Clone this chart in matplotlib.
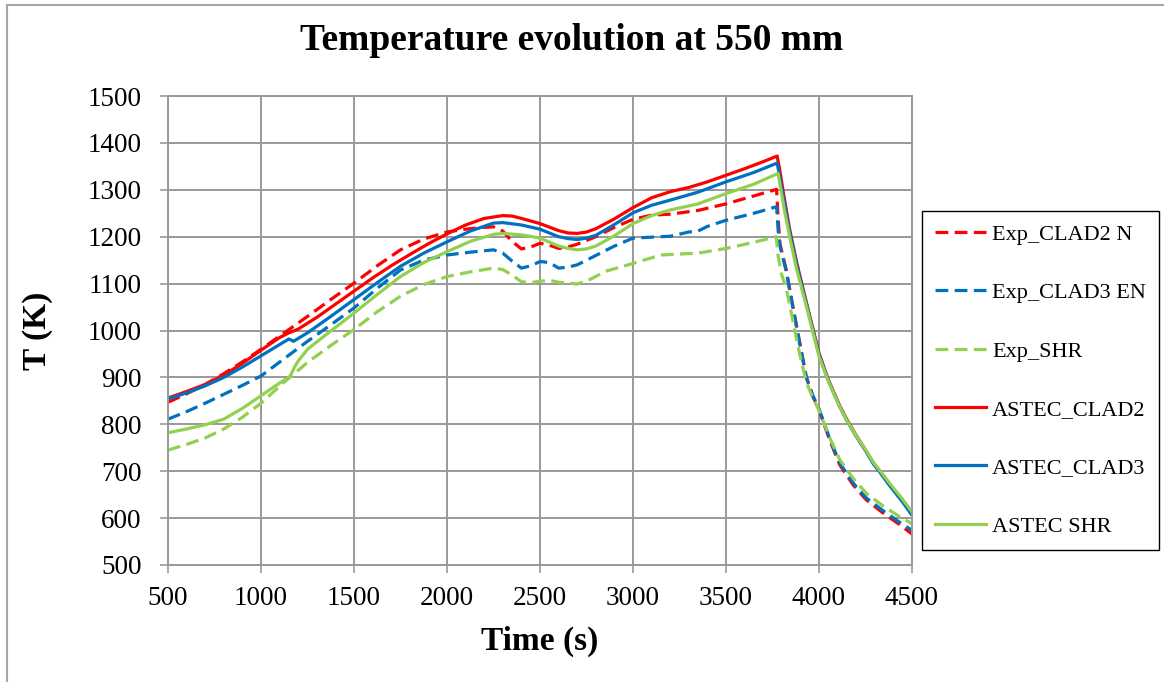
import matplotlib
matplotlib.use("Agg")
import matplotlib.pyplot as plt
from matplotlib.lines import Line2D

plt.rcParams['font.family'] = ['Liberation Serif', 'DejaVu Serif']

# Experimental data (time in s, temperature in K)
t_exp_clad2 = [500, 600, 700, 800, 900, 1000, 1125, 1250, 1375, 1500, 1625, 1750, 1875, 2000,
               2100, 2200, 2250, 2300, 2350, 2400, 2450, 2500, 2550, 2600, 2650, 2700, 2800,
               2900, 3000, 3100, 3200, 3350, 3500, 3650, 3772,
               3780, 3790, 3824, 3860, 3896, 3932, 3968, 4000, 4057, 4111, 4183, 4254, 4344,
               4434, 4500]
T_exp_clad2 = [847, 865, 885, 908, 933, 960, 995, 1030, 1066, 1101, 1138, 1172, 1195, 1210,
               1216, 1220, 1221, 1212, 1190, 1174, 1178, 1186, 1182, 1175, 1178, 1184, 1200,
               1220, 1237, 1246, 1248, 1256, 1270, 1287, 1301,
               1240, 1185, 1129, 1050, 975, 900, 859, 831, 767, 714, 671, 639, 611,
               586, 566]

t_exp_clad3 = [500, 600, 700, 800, 900, 1000, 1125, 1250, 1375, 1500, 1625, 1750, 1875, 2000,
               2125, 2250, 2300, 2350, 2400, 2450, 2500, 2550, 2600, 2650, 2700, 2800, 2900,
               3000, 3100, 3200, 3300, 3350, 3400, 3500, 3650, 3772,
               3780, 3790, 3824, 3860, 3896, 3932, 3968, 4000, 4057, 4111, 4183, 4254, 4344,
               4434, 4500]
T_exp_clad3 = [811, 827, 845, 864, 883, 903, 940, 977, 1012, 1048, 1090, 1129, 1150, 1161,
               1167, 1172, 1165, 1148, 1133, 1138, 1147, 1145, 1133, 1135, 1140, 1160, 1180,
               1197, 1199, 1201, 1210, 1212, 1222, 1235, 1250, 1264,
               1215, 1180, 1126, 1048, 973, 900, 860, 833, 770, 718, 675, 643, 616,
               591, 574]

t_exp_shr = [500, 600, 700, 800, 900, 1000, 1125, 1250, 1375, 1500, 1625, 1750, 1875, 2000,
             2125, 2250, 2300, 2350, 2400, 2450, 2500, 2550, 2600, 2700, 2775, 2850, 3000,
             3150, 3350, 3500, 3650, 3770,
             3780, 3797, 3824, 3860, 3896, 3932, 3968, 4000, 4057, 4111, 4183, 4254, 4344,
             4434, 4500]
T_exp_shr = [745, 757, 771, 790, 815, 845, 890, 932, 968, 1002, 1040, 1073, 1098, 1115,
             1125, 1133, 1130, 1118, 1104, 1102, 1105, 1107, 1103, 1099, 1110, 1126, 1143,
             1161, 1165, 1175, 1188, 1200,
             1160, 1122, 1090, 1020, 950, 890, 855, 830, 772, 725, 685, 653, 626,
             603, 588]

# ASTEC simulation results
t_astec_clad2 = [500, 600, 700, 800, 900, 1000, 1100, 1150, 1200, 1300, 1400, 1500, 1600, 1700,
                 1800, 1900, 2000, 2100, 2200, 2300, 2350, 2400, 2500, 2600, 2650, 2700, 2750,
                 2800, 2900, 3000, 3100, 3200, 3300, 3400, 3500, 3600, 3700, 3775,
                 3790, 3810, 3842, 3880, 3932, 4000, 4050, 4111, 4150, 4200, 4250, 4290, 4340,
                 4380, 4450, 4500]
T_astec_clad2 = [856, 870, 885, 905, 930, 958, 985, 995, 1003, 1028, 1056, 1084, 1112, 1138,
                 1162, 1185, 1206, 1225, 1239, 1245, 1244, 1239, 1228, 1213, 1208, 1207, 1210,
                 1217, 1238, 1262, 1283, 1296, 1305, 1317, 1331, 1345, 1360, 1372,
                 1340, 1290, 1216, 1145, 1060, 952, 895, 840, 810, 776, 745, 719, 693,
                 672, 636, 608]

t_astec_clad3 = [500, 600, 700, 800, 900, 1000, 1100, 1150, 1175, 1250, 1375, 1500, 1625, 1750,
                 1875, 2000, 2125, 2250, 2300, 2400, 2500, 2600, 2650, 2700, 2750, 2800, 2900,
                 3000, 3100, 3200, 3350, 3500, 3650, 3775,
                 3790, 3810, 3842, 3880, 3932, 4000, 4050, 4111, 4150, 4200, 4250, 4290, 4340,
                 4380, 4450, 4500]
T_astec_clad3 = [854, 867, 882, 900, 922, 946, 970, 982, 977, 995, 1030, 1066, 1102, 1137,
                 1165, 1189, 1212, 1229, 1230, 1225, 1216, 1200, 1196, 1194, 1197, 1203, 1226,
                 1251, 1267, 1278, 1295, 1317, 1337, 1357,
                 1325, 1280, 1210, 1140, 1057, 949, 893, 838, 808, 774, 744, 717, 691,
                 669, 634, 606]

t_astec_shr = [500, 600, 700, 800, 900, 1000, 1100, 1150, 1160, 1180, 1200, 1250, 1375, 1500,
               1625, 1750, 1875, 2000, 2125, 2250, 2300, 2400, 2500, 2600, 2650, 2700, 2750,
               2800, 2900, 3000, 3100, 3200, 3350, 3500, 3650, 3780,
               3795, 3815, 3842, 3880, 3932, 4000, 4050, 4111, 4150, 4200, 4250, 4290, 4340,
               4380, 4450, 4500]
T_astec_shr = [782, 790, 799, 811, 834, 861, 888, 900, 905, 922, 935, 960, 999, 1037,
               1077, 1115, 1145, 1168, 1190, 1205, 1207, 1204, 1197, 1180, 1175, 1172, 1174,
               1180, 1202, 1228, 1245, 1257, 1270, 1292, 1312, 1335,
               1300, 1255, 1200, 1130, 1052, 945, 892, 838, 808, 775, 746, 720, 695,
               674, 640, 613]

labels = ["Exp_CLAD2 N", "Exp_CLAD3 EN", "Exp_SHR", "ASTEC_CLAD2", "ASTEC_CLAD3", "ASTEC SHR"]
red = "#FF0000"
blue = "#0070C0"
green = "#92D050"

fig = plt.figure(figsize=(11.64, 6.82), dpi=100)
ax = fig.add_axes([168/1164, 1-565/682, 744/1164, 469/682])

lw = 2.3
ax.plot(t_exp_clad2, T_exp_clad2, color=red, lw=lw, dashes=(4, 2), label=labels[0])
ax.plot(t_exp_clad3, T_exp_clad3, color=blue, lw=lw, dashes=(4, 2), label=labels[1])
ax.plot(t_exp_shr, T_exp_shr, color=green, lw=lw, dashes=(4, 2), label=labels[2])
ax.plot(t_astec_clad2, T_astec_clad2, color=red, lw=lw, label=labels[3])
ax.plot(t_astec_clad3, T_astec_clad3, color=blue, lw=lw, label=labels[4])
ax.plot(t_astec_shr, T_astec_shr, color=green, lw=lw, label=labels[5])

ax.set_xlim(500, 4500)
ax.set_ylim(500, 1500)
ax.set_xticks(range(500, 4501, 500))
ax.set_yticks(range(500, 1501, 100))
grid_col = "#999999"
ax.grid(True, color=grid_col, lw=1.4)
ax.set_axisbelow(True)
for s in ax.spines.values():
    s.set_color(grid_col)
    s.set_linewidth(1.4)
ax.tick_params(direction='out', length=6, width=1.2, color=grid_col, labelsize=19.5)
ax.tick_params(axis='x', pad=9)
ax.tick_params(axis='y', pad=13)

ax.set_xlabel("Time (s)", fontsize=24, fontweight='bold')
ax.set_ylabel("T (K)", fontsize=24, fontweight='bold')
ax.xaxis.set_label_coords(0.5, -0.13)
ax.yaxis.set_label_coords(-0.155, 0.5)

fig.text(572/1164, 1-40/682, "Temperature evolution at 550 mm", fontsize=27,
         fontweight='bold', ha='center', va='center')

leg = ax.legend(loc='upper left', bbox_to_anchor=(922/1164, 1-211/682),
                bbox_transform=fig.transFigure, fontsize=16, fancybox=False,
                edgecolor='black', framealpha=1, borderpad=0.6, labelspacing=1.7,
                handlelength=2.3, handletextpad=0.25, borderaxespad=0)
leg.get_frame().set_linewidth(1.0)

# outer chart border (left and top only visible)
fig.add_artist(Line2D([7/1164, 7/1164], [0, 1-5/682], transform=fig.transFigure,
                      color="#a6a6a6", lw=1.5))
fig.add_artist(Line2D([7/1164, 1], [1-5/682, 1-5/682], transform=fig.transFigure,
                      color="#a6a6a6", lw=1.5))

fig.savefig("out.png", dpi=100)
